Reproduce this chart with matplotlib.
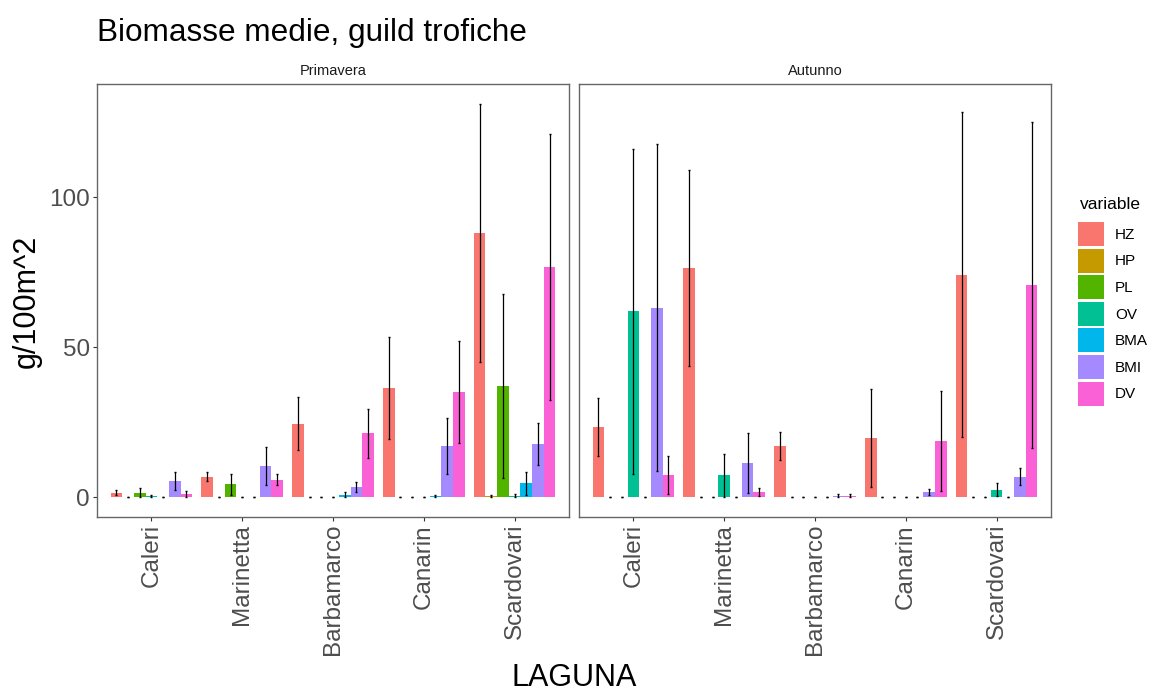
import numpy as np
import matplotlib
matplotlib.use('Agg')
import matplotlib.pyplot as plt
from matplotlib.patches import Patch

plt.rcParams['font.family'] = ['Liberation Sans', 'DejaVu Sans']

lagune = ['Caleri', 'Marinetta', 'Barbamarco', 'Canarin', 'Scardovari']
variables = ['HZ', 'HP', 'PL', 'OV', 'BMA', 'BMI', 'DV']
colors = ['#F8766D', '#C49A00', '#53B400', '#00C094', '#00B6EB', '#A58AFF', '#FB61D7']
stagioni = ['Primavera', 'Autunno']

# rows = laguna, columns = variable (HZ, HP, PL, OV, BMA, BMI, DV)
prim_mean = [[1.5, 0, 1.5, 0.4, 0, 5.3, 1.1],
             [6.8, 0, 4.2, 0, 0, 10.3, 5.8],
             [24.4, 0, 0, 0, 0.8, 3.4, 21.2],
             [36.4, 0, 0, 0, 0.3, 17.0, 34.9],
             [88.1, 0.3, 36.9, 0.5, 4.6, 17.7, 76.8]]
prim_se = [[0.8, 0, 1.5, 0.4, 0, 3.0, 1.0],
           [1.6, 0, 3.6, 0, 0, 6.3, 1.8],
           [8.8, 0, 0, 0, 0.8, 1.7, 8.3],
           [17.0, 0, 0, 0, 0.4, 9.3, 17.0],
           [43.1, 0.3, 30.7, 0.5, 3.9, 7.0, 44.4]]
aut_mean = [[23.4, 0, 0, 62.0, 0, 63.2, 7.3],
            [76.4, 0, 0, 7.2, 0, 11.4, 1.7],
            [16.9, 0, 0, 0, 0, 0.5, 0.5],
            [19.7, 0, 0, 0, 0, 1.7, 18.7],
            [74.2, 0, 0, 2.5, 0, 6.8, 70.7]]
aut_se = [[9.6, 0, 0, 54.2, 0, 54.5, 6.4],
          [32.7, 0, 0, 7.3, 0, 9.9, 1.2],
          [4.7, 0, 0, 0, 0, 0.4, 0.6],
          [16.3, 0, 0, 0, 0, 1.0, 16.7],
          [54.3, 0, 0, 2.2, 0, 2.8, 54.3]]

W, H = 1156, 693
fig = plt.figure(figsize=(W / 100, H / 100), dpi=100)

def px_box(x0, y0, x1, y1):
    return [x0 / W, 1 - y1 / H, (x1 - x0) / W, (y1 - y0) / H]

ax1 = fig.add_axes(px_box(97, 84, 569, 517))
ax2 = fig.add_axes(px_box(579, 84, 1051, 517), sharey=ax1)

data = [(np.array(prim_mean), np.array(prim_se)), (np.array(aut_mean), np.array(aut_se))]
lo = min(min((m - s).min() for m, s in data), 0)
hi = max((m + s).max() for m, s in data)
pad = 0.05 * (hi - lo)

x = np.arange(len(lagune))
bw = 0.9 / len(variables)

for ax, (mean, se), name in zip([ax1, ax2], data, stagioni):
    for j, var in enumerate(variables):
        xs = x + (j - (len(variables) - 1) / 2) * bw
        ax.bar(xs, mean[:, j], width=bw, color=colors[j], edgecolor='none', zorder=2)
        ax.errorbar(xs, mean[:, j], yerr=se[:, j], fmt='none', ecolor='black',
                    elinewidth=0.9, capsize=0.7, capthick=1.0, zorder=3)
    ax.set_xlim(-0.6, len(lagune) - 0.4)
    ax.set_ylim(lo - pad, hi + pad)
    ax.set_xticks(x)
    ax.set_xticklabels(lagune, rotation=90, va='top', ha='center')
    ax.set_yticks([0, 50, 100])
    ax.tick_params(axis='both', length=3, width=0.8, color='#333333',
                   labelsize=17.5, labelcolor='#4D4D4D', pad=2)
    for sp in ax.spines.values():
        sp.set_color('#666666')
        sp.set_linewidth(1.0)
    pos = ax.get_position()
    fig.text(pos.x0 + pos.width / 2, 1 - 71 / H, name, ha='center', va='center',
             fontsize=10.5, color='#1A1A1A')

ax2.tick_params(axis='y', left=False, labelleft=False)

fig.text(97 / W, 1 - 41 / H, 'Biomasse medie, guild trofiche', ha='left',
         va='baseline', fontsize=22.7, color='black')
fig.text(574 / W, 1 - 686 / H, 'LAGUNA', ha='center', va='baseline',
         fontsize=22, color='black')
fig.text(27 / W, 1 - 301 / H, 'g/100m^2', ha='center', va='center',
         rotation=90, fontsize=22, color='black')

# legend
fig.text(1080 / W, 1 - 205 / H, 'variable', ha='left', va='center',
         fontsize=12.5, color='black')
handles = [Patch(facecolor=c, edgecolor='none') for c in colors]
fig.legend(handles, variables, loc='upper left',
           bbox_to_anchor=(1078 / W, 1 - 222 / H), frameon=False,
           fontsize=11, handlelength=1.7, handleheight=2.04,
           labelspacing=0.17, handletextpad=0.72, borderpad=0, borderaxespad=0)

fig.savefig('out.png', dpi=100)
